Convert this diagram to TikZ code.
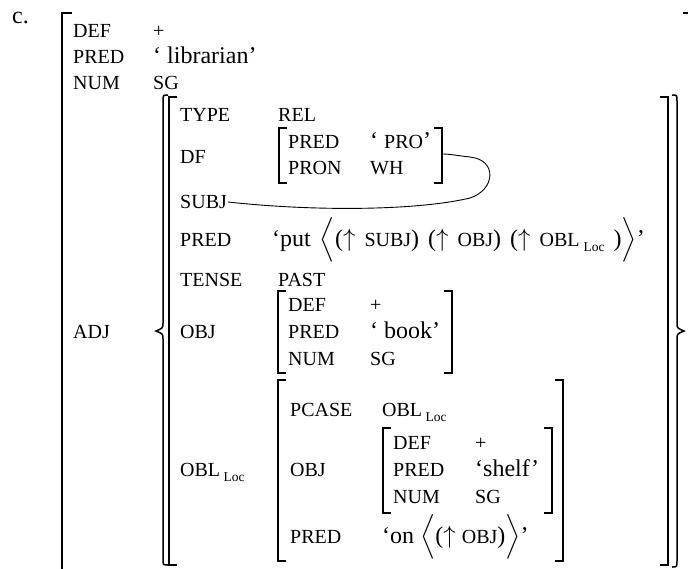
\documentclass[tikz,border=0pt]{standalone}
\usepackage{fontspec}
\usepackage{amsmath}
\setmainfont{Liberation Serif}
% smaller capitals for attribute names inside values, and the Loc subscript
\newcommand\sml[1]{{\fontsize{20}{20}\selectfont #1}}
\newcommand\lc{\raisebox{-5pt}{\fontsize{13.5}{13.5}\selectfont Loc}}
\newcommand\gap{\hspace{9pt}}
% square brackets of the attribute-value matrices
\newcommand\avmL[3]{\draw[brk] (#1+8,#2) -- (#1,#2) -- (#1,#3) -- (#1+8,#3);}
\newcommand\avmR[3]{\draw[brk] (#1-8,#2) -- (#1,#2) -- (#1,#3) -- (#1-8,#3);}
\begin{document}
\begin{tikzpicture}[x=1pt,y=-1pt,
  lab/.style={anchor=base west, inner sep=0pt, font=\fontsize{20}{20}\selectfont},
  val/.style={anchor=base west, inner sep=0pt, font=\fontsize{24}{24}\selectfont},
  brk/.style={line width=1.5pt},
  link/.style={line width=0.9pt}]
\useasboundingbox (0,0) rectangle (688,568);

\node[val] (ex) at (12,23) {c.};

% outer f-structure
\draw[brk] (72,13) -- (62,13) -- (62,580);
\draw[brk] (683,13) -- (691,13) -- (691,580);
\node[lab] (def0) at (73,37) {DEF};   \node[lab] (def0v) at (153,37) {+};
\node[lab] (pred0) at (73,63) {PRED}; \node[val] (pred0v) at (153,63) {‘ librarian’};
\node[lab] (num0) at (73,89) {NUM};   \node[lab] (num0v) at (153,89) {SG};
\node[lab] (adj) at (73,338) {ADJ};

% set braces and the adjunct f-structure brackets
\draw[brk] (168,95) .. controls (163,95) .. (163,101) -- (163,323)
  .. controls (163,328) .. (156,331) .. controls (163,334) .. (163,339)
  -- (163,559) .. controls (163,565) .. (168,565);
\avmL{169}{97}{565}
\avmR{668}{97}{565}
\draw[brk] (672,95) .. controls (677,95) .. (677,101) -- (677,323)
  .. controls (677,328) .. (684,331) .. controls (677,334) .. (677,339)
  -- (677,561) .. controls (677,567) .. (672,567);

\node[lab] (type) at (180,121) {TYPE};  \node[lab] (typev) at (278,121) {REL};
\node[lab] (df) at (180,163) {DF};
\avmL{279}{128}{183}
\avmR{442}{128}{183}
\coordinate (dfr) at (443,154);
\node[lab] (dfpred) at (288,148) {PRED}; \node[val] (dfpredv) at (370,148) {‘ \sml{PRO}’};
\node[lab] (dfpron) at (288,174) {PRON}; \node[lab] (dfpronv) at (370,174) {WH};

\node[lab] (subj) at (180,208) {SUBJ};
\node[lab] (pred) at (180,246) {PRED};
\node[val] (predv) at (272,246) {‘put\gap$\Bigl\langle$($\uparrow$\gap\sml{SUBJ})\gap($\uparrow$\gap\sml{OBJ})\gap($\uparrow$\gap\sml{OBL}\,\lc\gap)$\Bigr\rangle$’};
\node[lab] (tense) at (180,286) {TENSE}; \node[lab] (tensev) at (278,286) {PAST};

\node[lab] (obj) at (180,338) {OBJ};
\avmL{278}{291}{373}
\avmR{452}{291}{373}
\node[lab] (bdef) at (288,311) {DEF};   \node[lab] (bdefv) at (370,311) {+};
\node[lab] (bpred) at (288,338) {PRED}; \node[val] (bpredv) at (370,338) {‘ book’};
\node[lab] (bnum) at (288,365) {NUM};   \node[lab] (bnumv) at (370,365) {SG};

\node[lab] (obl) at (180,476) {OBL\,\lc};
\avmL{278}{380}{561}
\avmR{563}{380}{561}
\node[lab] (pcase) at (290,416) {PCASE}; \node[lab] (pcasev) at (382,416) {OBL\,\lc};
\node[lab] (oobj) at (290,476) {OBJ};
\avmL{383}{428}{513}
\avmR{552}{428}{513}
\node[lab] (sdef) at (393,449) {DEF};   \node[lab] (sdefv) at (475,449) {+};
\node[lab] (spred) at (393,476) {PRED}; \node[val] (spredv) at (475,476) {‘shelf’};
\node[lab] (snum) at (393,503) {NUM};   \node[lab] (snumv) at (475,503) {SG};
\node[lab] (opred) at (290,543) {PRED};
\node[val] (opredv) at (382,543) {‘on $\Bigl\langle$($\uparrow$ \sml{OBJ})$\Bigr\rangle$’};

% structure-sharing line from SUBJ to the DF value
\draw[link] (subj.base east) ++(1,-6) .. controls (320,212) and (420,210) .. (470,198)
  .. controls (495,190) and (498,160) .. (470,157)
  .. controls (460,156) and (450,154) .. (dfr);
\end{tikzpicture}
\end{document}
